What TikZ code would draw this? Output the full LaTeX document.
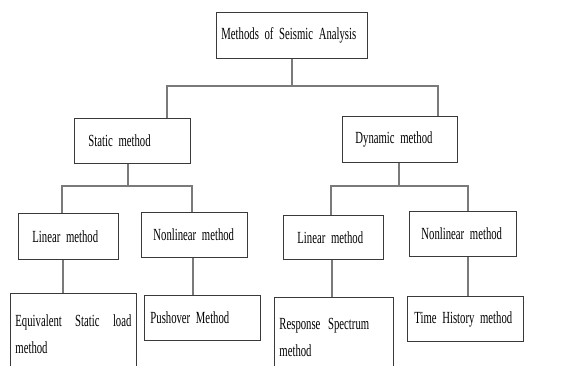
\documentclass[tikz,border=0pt]{standalone}
\usepackage{fontspec}
\setmainfont[FakeStretch=0.63]{Liberation Serif}
\definecolor{boxline}{HTML}{3A3A3A}
\definecolor{linkline}{HTML}{7A7A7A}
\newcommand\mboxfont{\fontsize{17}{27}\selectfont\spaceskip=2.4pt plus 8pt minus 0.5pt\relax}
\tikzset{
  mbox/.style={draw=boxline,line width=0.9pt,anchor=north west,align=left,
    font=\mboxfont,inner ysep=0pt},
  link/.style={draw=linkline,line width=1.2pt}
}
\begin{document}
\begin{tikzpicture}[x=1pt,y=-1pt]
 \useasboundingbox (0,0) rectangle (566,366);
 \clip (0,0) rectangle (566,366);
 % first level
 \node[mbox,inner xsep=5pt,text width=141pt,minimum height=46pt] (root) at (216,12) {Methods of Seismic Analysis};
 \node[mbox,inner xsep=14pt,text width=88pt,minimum height=45pt] (static) at (74,118) {Static method};
 \node[mbox,inner xsep=13pt,text width=89pt,minimum height=46pt] (dynamic) at (342,116) {Dynamic method};
 % second level
 \node[mbox,inner xsep=14pt,text width=72pt,minimum height=46pt] (linS) at (18,213) {Linear method};
 \node[mbox,inner xsep=12pt,text width=82pt,minimum height=45pt] (nonS) at (141,212) {Nonlinear method};
 \node[mbox,inner xsep=14pt,text width=72pt,minimum height=44pt] (linD) at (283,215) {Linear method};
 \node[mbox,inner xsep=12pt,text width=83pt,minimum height=45pt] (nonD) at (409,211) {Nonlinear method};
 % third level
 \node[mbox,align=justify,inner xsep=5pt,text width=116pt,minimum height=81pt] (equiv) at (10,293) {Equivalent Static load method};
 \node[mbox,inner xsep=6pt,text width=104pt,minimum height=45pt] (push) at (144,295) {Pushover Method};
 \node[mbox,inner xsep=5pt,text width=109pt,minimum height=81pt] (resp) at (274,297) {Response\hspace{2pt} Spectrum method};
 \node[mbox,inner xsep=7pt,text width=102pt,minimum height=45pt] (time) at (407,296) {Time History method};
 % branch points
 \coordinate (rootL) at (167,86);
 \coordinate (rootR) at (438,86);
 \coordinate (statL) at (62,186);
 \coordinate (statR) at (192,186);
 \coordinate (statM) at (128,186);
 \coordinate (dynL) at (331,186);
 \coordinate (dynR) at (468,186);
 \coordinate (dynM) at (399,186);
 \coordinate (dropA) at (63,0);
 \coordinate (dropB) at (193,0);
 \coordinate (dropC) at (332,0);
 \coordinate (dropD) at (468,0);
 % connectors
 \draw[link] (root.south) -- (root.south |- rootL);
 \draw[link] (static.north -| rootL) -- (rootL) -- (rootR) -- (dynamic.north -| rootR);
 \draw[link] (static.south -| statM) -- (statM);
 \draw[link] (linS.north -| statL) -- (statL) -- (statR) -- (nonS.north -| statR);
 \draw[link] (dynamic.south -| dynM) -- (dynM);
 \draw[link] (linD.north -| dynL) -- (dynL) -- (dynR) -- (nonD.north -| dynR);
 \draw[link] (linS.south -| dropA) -- (equiv.north -| dropA);
 \draw[link] (nonS.south -| dropB) -- (push.north -| dropB);
 \draw[link] (linD.south -| dropC) -- (resp.north -| dropC);
 \draw[link] (nonD.south -| dropD) -- (time.north -| dropD);
\end{tikzpicture}
\end{document}
